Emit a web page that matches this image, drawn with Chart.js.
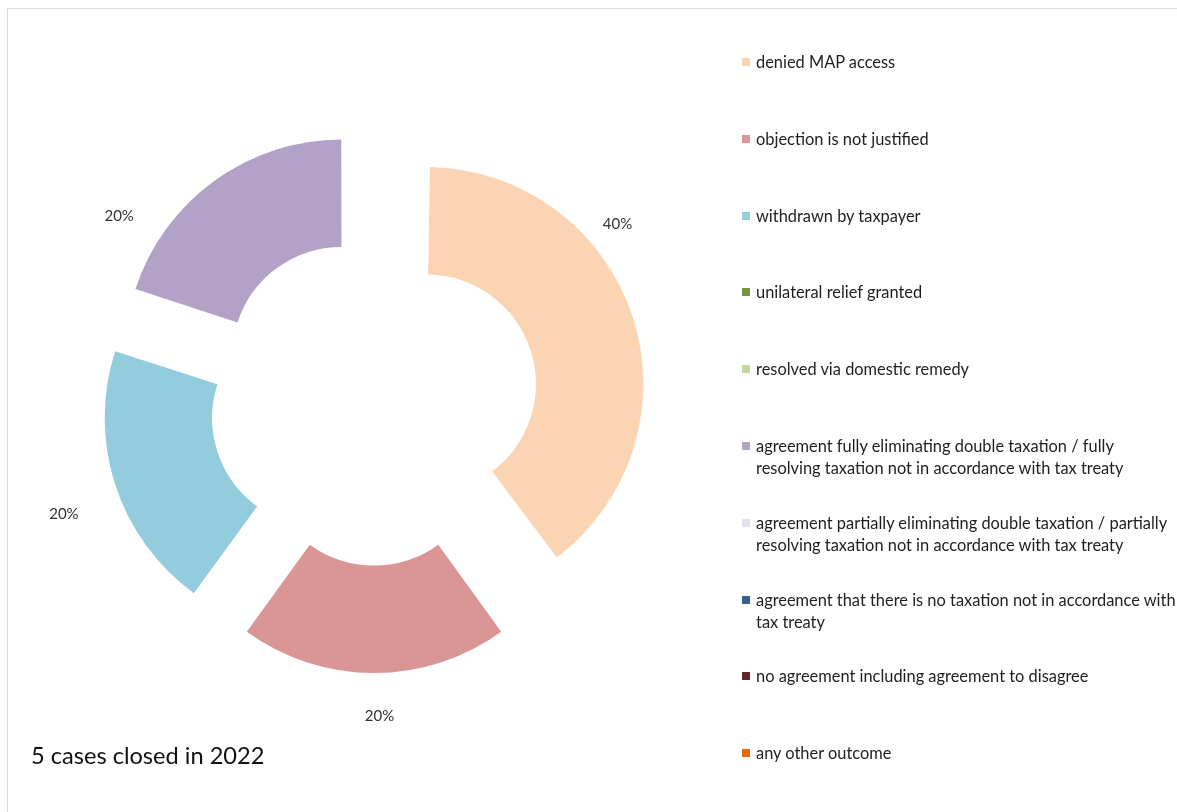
<!DOCTYPE html>
<html>
<head>
<meta charset="utf-8">
<script src="https://cdn.jsdelivr.net/npm/chart.js@4.4.0/dist/chart.umd.min.js"></script>
<style>
  html, body { margin: 0; padding: 0; background: #fff; }
  #wrap { position: relative; width: 1177px; height: 812px; overflow: hidden; font-family: Lato, "Noto Sans", sans-serif; }
  #frame { position: absolute; left: 7px; top: 8px; right: -2px; bottom: -2px; border-top: 1px solid #dcdcdc; border-left: 1px solid #dcdcdc; }
  #pie { position: absolute; left: 0; top: 0; }
  #legend { position: absolute; left: 742px; top: 51px; margin: 0; padding: 0; list-style: none; }
  #legend li { position: relative; height: 76.8px; padding-left: 14px; font-size: 16.4px; line-height: 22px; color: #1e1e1e; white-space: nowrap; }
  #legend li span { position: absolute; left: 0; top: 7px; width: 8px; height: 8px; }
  #caption { position: absolute; left: 31px; top: 739px; font-size: 23.6px; line-height: 32px; color: #111; }
</style>
</head>
<body>
<div id="wrap">
  <div id="frame"></div>
  <canvas id="pie" width="1177" height="812"></canvas>
  <ul id="legend"></ul>
  <div id="caption">5 cases closed in 2022</div>
</div>
<script>
const outcomes = [
  'denied MAP access',
  'objection is not justified',
  'withdrawn by taxpayer',
  'unilateral relief granted',
  'resolved via domestic remedy',
  ['agreement fully eliminating double taxation / fully', 'resolving taxation not in accordance with tax treaty'],
  ['agreement partially eliminating double taxation / partially', 'resolving taxation not in accordance with tax treaty'],
  ['agreement that there is no taxation not in accordance with', 'tax treaty'],
  'no agreement including agreement to disagree',
  'any other outcome'
];
const casesClosed = [2, 1, 1, 0, 0, 1, 0, 0, 0, 0];
const outcomeColors = [
  '#fbd4b4', '#d99694', '#93cddd', '#77933c', '#c3d69b',
  '#b3a2c7', '#e6e0ec', '#376092', '#632523', '#e46c0a'
];

// label nudges (degrees along the ring, px past the outer edge)
const labelNudge = {0: [-18, 29], 1: [-1, 43], 2: [-2, 58], 5: [-18, 43]};

// v4 grows the radius of wide offset arcs; keep every slice on the same ring
const sameRing = {
  id: 'sameRing',
  beforeDatasetsDraw(chart) {
    chart.getDatasetMeta(0).data.forEach(arc => {
      const off = (arc.options.offset || 0) / 4;
      const fix = off * (1 - Math.sin(Math.min(Math.PI, arc.circumference)));
      arc.$saved = [arc.outerRadius, arc.innerRadius];
      arc.outerRadius -= fix;
      arc.innerRadius -= fix;
    });
  },
  afterDatasetsDraw(chart) {
    chart.getDatasetMeta(0).data.forEach(arc => {
      if (arc.$saved) {
        [arc.outerRadius, arc.innerRadius] = arc.$saved;
        delete arc.$saved;
      }
    });
  }
};

const shareLabels = {
  id: 'shareLabels',
  afterDraw(chart) {
    const ctx = chart.ctx;
    const meta = chart.getDatasetMeta(0);
    const values = chart.data.datasets[0].data;
    const total = values.reduce((a, b) => a + b, 0);
    ctx.save();
    ctx.font = '15px Lato, "Noto Sans", sans-serif';
    ctx.fillStyle = '#333';
    ctx.textAlign = 'center';
    ctx.textBaseline = 'middle';
    meta.data.forEach((arc, i) => {
      if (!values[i]) return;
      const [da, gap] = labelNudge[i] || [0, 40];
      const mid = (arc.startAngle + arc.endAngle) / 2 + da * Math.PI / 180;
      const r = arc.outerRadius + (arc.options.offset || 0) / 4 + gap;
      const pct = Math.round(values[i] / total * 100) + '%';
      ctx.fillText(pct, arc.x + Math.cos(mid) * r, arc.y + Math.sin(mid) * r);
    });
    ctx.restore();
  }
};

const chart = new Chart(document.getElementById('pie'), {
  type: 'doughnut',
  data: {
    labels: outcomes,
    datasets: [{
      data: casesClosed,
      backgroundColor: outcomeColors,
      borderWidth: 0,
      offset: 220,
      hoverOffset: 0
    }]
  },
  options: {
    responsive: false,
    animation: false,
    events: [],
    cutout: '50.5%',
    layout: { padding: { left: 47, top: 74, right: 476, bottom: 84 } },
    plugins: {
      legend: { display: false },
      tooltip: { enabled: false }
    }
  },
  plugins: [sameRing, shareLabels]
});

// legend on the right, built from the chart data
const list = document.getElementById('legend');
chart.data.labels.forEach((lbl, i) => {
  const li = document.createElement('li');
  const box = document.createElement('span');
  box.style.background = outcomeColors[i];
  li.appendChild(box);
  (Array.isArray(lbl) ? lbl : [lbl]).forEach((line, k) => {
    if (k) li.appendChild(document.createElement('br'));
    li.appendChild(document.createTextNode(line));
  });
  list.appendChild(li);
});
</script>
</body>
</html>
